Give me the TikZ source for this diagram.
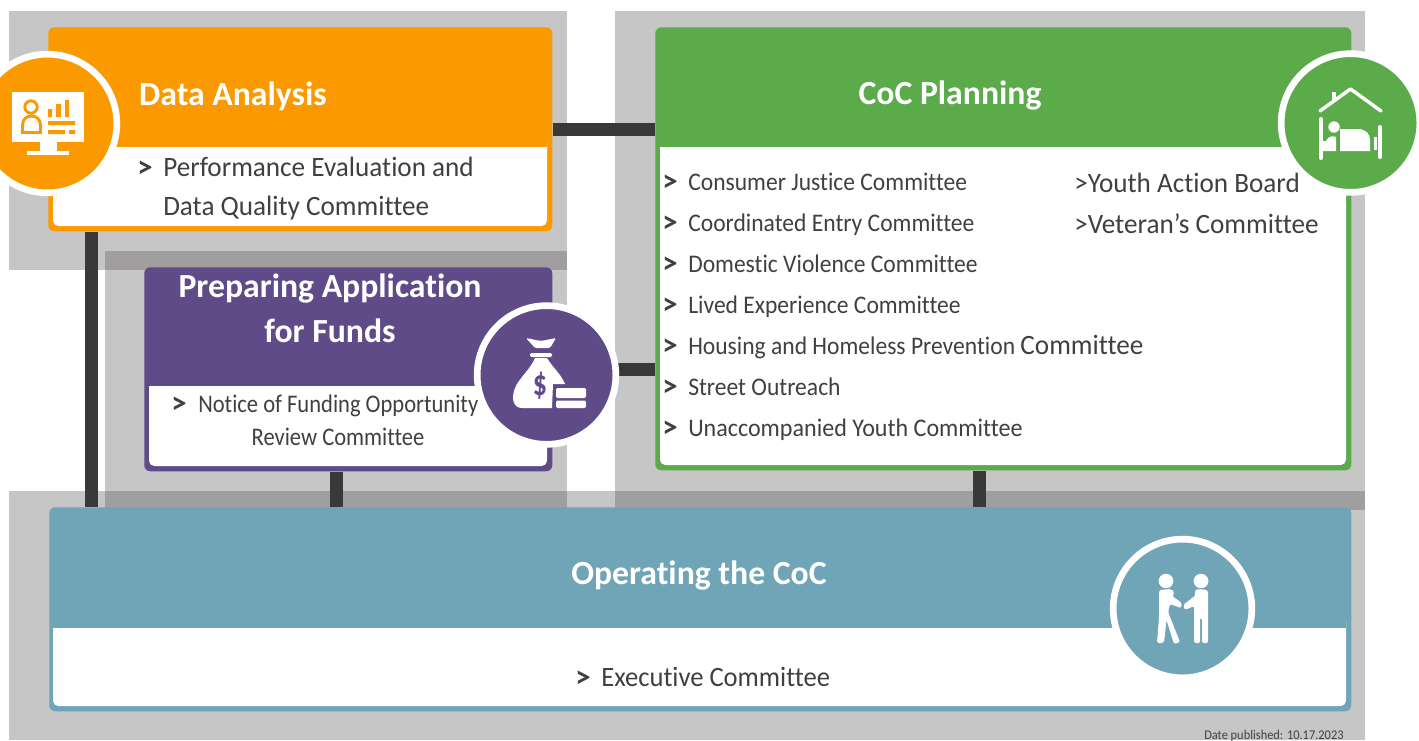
\documentclass[tikz,border=0pt]{standalone}
\usepackage{fontspec}
\setmainfont[Ligatures=NoCommon]{Carlito}
\newfontfamily\condA[FakeStretch=0.89,Ligatures=NoCommon]{Carlito}
\newfontfamily\condD[FakeStretch=0.93,Ligatures=NoCommon]{Carlito}
\newfontfamily\condB[FakeStretch=0.95,Ligatures=NoCommon]{Carlito}
\newfontfamily\condC[FakeStretch=0.97,Ligatures=NoCommon]{Carlito}
\definecolor{orangeC}{HTML}{FA9A00}
\definecolor{greenC}{HTML}{5BAB4B}
\definecolor{purpleC}{HTML}{604B89}
\definecolor{tealC}{HTML}{6FA5B7}
\definecolor{grayA}{HTML}{C6C6C6}
\definecolor{grayB}{HTML}{A09E9E}
\definecolor{barC}{HTML}{3A3839}
\definecolor{txtC}{HTML}{404040}
\tikzset{
 zone/.style={fill=grayA,draw=none},
 overlap/.style={fill=grayB,draw=none},
 cardbox/.style={draw=none,fill=#1,rounded corners=4.5pt,anchor=north west,inner sep=0pt},
 cardbody/.style={fill=white,draw=none,rounded corners=4pt},
 bar/.style={draw=barC,line width=9.75pt},
 head/.style={text=white,font=\fontsize{25.3}{25.3}\selectfont\bfseries,inner sep=0pt},
 item/.style={text=txtC,font=\fontsize{19}{19}\condD\selectfont,anchor=base west,inner sep=0pt},
 small/.style={text=txtC,font=\fontsize{19}{19}\condA\selectfont,anchor=base west,inner sep=0pt},
 big/.style={text=txtC,font=\fontsize{21}{21}\condC\selectfont,anchor=base west,inner sep=0pt},
 chev/.style={text=txtC,font=\fontsize{23}{23}\selectfont\bfseries,anchor=base west,inner sep=0pt},
 ring/.style={circle,fill=#1,draw=white,line width=5pt,minimum size=104pt,inner sep=0pt},
 ico/.style={fill=white,draw=none},
}
\begin{document}
\begin{tikzpicture}[x=0.75pt,y=-0.75pt]
\path[use as bounding box,clip] (0,0) rectangle (1419,740);
\fill[white] (0,0) rectangle (1419,740);
% zones
\fill[zone] (9,11) rectangle (567,270);
\fill[zone] (105,251) rectangle (567,507);
\fill[zone] (615,11) rectangle (1365,510);
\fill[zone] (9,491) rectangle (1365,740);
\fill[overlap] (105,251) rectangle (567,270);
\fill[overlap] (105,491) rectangle (567,508);
\fill[overlap] (615,491) rectangle (1365,510);
% cards (named)
\node[cardbox=orangeC,minimum width=378pt,minimum height=153pt] (data) at (48,27) {};
\node[cardbox=greenC,minimum width=522pt,minimum height=332.25pt] (plan) at (655,27) {};
\node[cardbox=purpleC,minimum width=306pt,minimum height=153pt] (fund) at (144,267) {};
\node[cardbox=tealC,minimum width=976.5pt,minimum height=153pt] (oper) at (49,507) {};
% connectors
\coordinate (colA) at (91,0);
\coordinate (colB) at (336,0);
\coordinate (colC) at (979,0);
\coordinate (rowA) at (0,129);
\coordinate (rowB) at (0,369);
\draw[bar] (data.south -| colA) -- (oper.north -| colA);
\draw[bar] (fund.south -| colB) -- (oper.north -| colB);
\draw[bar] (plan.south -| colC) -- (oper.north -| colC);
\draw[bar] (data.east |- rowA) -- (plan.west |- rowA);
\draw[bar] (fund.east |- rowB) -- (plan.west |- rowB);
% card bodies: white panel with rounded corners, top edge squared by the header colour
\fill[cardbody] (53,135) rectangle (547,226);
\fill[orangeC] (53,135) rectangle (547,147);
\fill[cardbody] (660,135) rectangle (1346,465);
\fill[greenC] (660,135) rectangle (1346,147);
\fill[cardbody] (149,375) rectangle (547,466);
\fill[purpleC] (149,375) rectangle (547,386);
\fill[cardbody] (53,615) rectangle (1346,706);
\fill[tealC] (53,615) rectangle (1346,628);
% heads
\node[head] at (233,96) {Data Analysis};
\node[head] at (950,96) {CoC Planning};
\node[head] at (330,289) {Preparing Application};
\node[head] at (330,331) {for Funds};
\node[head] at (699,576) {Operating the CoC};
% texts
\node[chev] at (137,177) {>};
\node[big] at (163,176) {Performance Evaluation and};
\node[big] at (163,215) {Data Quality Committee};
\foreach \yy/\tt in {190/Consumer Justice Committee,231/Coordinated Entry Committee,272/Domestic Violence Committee,313/Lived Experience Committee,395/Street Outreach}{
 \node[item] at (688,\yy) {\tt};
}
\node[item] at (688,354) {Housing and Homeless Prevention \fontsize{21}{21}\condC\selectfont Committee};
\node[item,font=\fontsize{19}{19}\condB\selectfont] at (688,436) {Unaccompanied Youth Committee};
\foreach \yy in {191,232,273,314,355,396,437}{
 \node[chev] at (662,\yy) {>};
}
\node[big] at (1074,192) {>Youth Action Board};
\node[big] at (1074,233) {>Veteran’s Committee};
\node[chev] at (171,413) {>};
\node[small] at (198,412) {Notice of Funding Opportunity};
\node[small,anchor=base] at (338,445) {Review Committee};
\node[chev] at (575,687) {>};
\node[big,font=\fontsize{21}{21}\condB\selectfont] at (601,686) {Executive Committee};
\node[text=txtC,font=\fontsize{10}{10}\condD\selectfont,anchor=base west,inner sep=0pt] at (1204,739) {Date published: 10.17.2023};
% icon circles
\node[ring=orangeC] (icoData) at (47.5,123.5) {};
\node[ring=purpleC] (icoFund) at (546.5,375) {};
\node[ring=greenC] (icoPlan) at (1350.5,123) {};
\node[ring=tealC] (icoOper) at (1182.5,608.5) {};
% data icon
\fill[ico] (12,92) rectangle (84,142);
\fill[ico] (40,142) rectangle (57,151);
\fill[ico] (27,151) rectangle (69,155);
\draw[orangeC,line width=2.2pt] (31,107) circle (6.2);
\draw[orangeC,line width=2.2pt] (22.5,132.5) -- (22.5,125) .. controls (22.5,113) and (40.5,113) .. (40.5,125) -- (40.5,132.5) -- cycle;
\fill[orangeC] (48,109) rectangle (52,117) (56,104) rectangle (61,117) (65,100) rectangle (69,117);
\fill[orangeC] (48,121) rectangle (75,125) (48,130) rectangle (65,134) (69,130) rectangle (75,134);
% money bag icon
\fill[ico,rounded corners=1pt] (526,338) -- (541,341) -- (556,338) -- (550,348) -- (535,348) -- cycle;
\fill[ico,rounded corners=1pt] (530,353) rectangle (552,357);
\fill[ico] (535,358) -- (547,358) .. controls (553,368) and (561,374) .. (565,384) -- (553,384) -- (552,408) -- (522,408) .. controls (513,408) and (511,398) .. (515,388) .. controls (519,378) and (530,370) .. (535,358) -- cycle;
\fill[ico,rounded corners=1pt] (556,388) rectangle (586,398);
\fill[ico,rounded corners=1pt] (556,400.5) rectangle (586,408);
\node[text=purpleC,font=\fontsize{21}{21}\selectfont\bfseries,inner sep=0pt] at (540,386) {\scalebox{1}[1.3]{\$}};
% house and bed icon
\draw[white,line width=2.6pt,line cap=round,line join=round] (1320,111) -- (1350.5,89) -- (1381,111);
\draw[white,line width=3pt] (1334,92) -- (1334,101);
\draw[white,line width=3pt,line cap=round] (1321,119) -- (1321,158);
\draw[white,line width=3pt,line cap=round] (1380,127) -- (1380,157);
\fill[ico] (1334,127) circle (5.7);
\fill[ico] (1323,141) -- (1326,141) .. controls (1329,135) and (1333,136) .. (1336,137) -- (1336,151) -- (1323,151) -- cycle;
\fill[ico] (1340,129) -- (1358,129) .. controls (1366,129) and (1370,134) .. (1370,140) -- (1370,151) -- (1340,151) -- cycle;
\fill[ico] (1374,137) rectangle (1377,150);
% handshake icon
\fill[ico] (1166,581) ellipse (7.4 and 7.2);
\fill[ico] (1201,581) ellipse (7.4 and 7.2);
\fill[ico,rounded corners=1.5pt] (1159,590) -- (1171,589) .. controls (1174,591) and (1174,594) .. (1172,596) -- (1182,603) -- (1181,608) -- (1170,604) -- (1168,612) -- (1180,642) -- (1174,644) -- (1166.5,620) -- (1164,643) -- (1157,643) -- (1159,617) -- cycle;
\fill[ico,rounded corners=1.5pt] (1208,590) -- (1198,589) .. controls (1195,590) and (1195,593) .. (1196,595) -- (1183,605) -- (1185,610) -- (1194,606) -- (1194,643) -- (1200,643) -- (1200,618) -- (1202,618) -- (1202,643) -- (1208,643) -- cycle;
\end{tikzpicture}
\end{document}
